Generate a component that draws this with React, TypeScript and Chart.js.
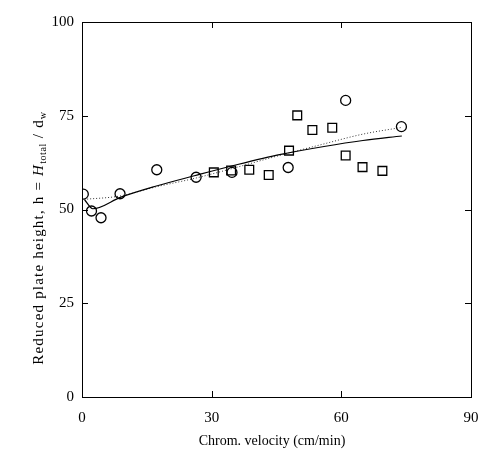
import React, { useEffect, useRef } from "react";
import { Chart, registerables } from "chart.js";
Chart.register(...registerables);

const xTickValues = [0, 30, 60, 90];
const yTickValues = [0, 25, 50, 75, 100];
const circleX = [0.3, 2.2, 4.4, 8.8, 17.3, 26.4, 34.7, 47.7, 61.0, 73.9];
const circleY = [54.1, 49.6, 47.8, 54.2, 60.6, 58.6, 59.9, 61.2, 79.1, 72.1];
const squareX = [30.5, 34.5, 38.7, 43.2, 47.9, 49.8, 53.3, 57.9, 61.0, 64.9, 69.5];
const squareY = [59.9, 60.4, 60.6, 59.2, 65.7, 75.1, 71.2, 71.8, 64.4, 61.3, 60.3];
const solidX = [0.6, 2.5, 9, 17, 26, 36, 46, 56, 65, 74];
const solidY = [52.6, 50.2, 53.3, 56.2, 59.0, 62.0, 64.7, 66.8, 68.4, 69.6];
const dottedX = [0.5, 8.8, 17, 26.4, 35, 45, 55, 65, 74];
const dottedY = [52.7, 53.6, 56.0, 58.4, 61.0, 64.2, 67.2, 70.1, 71.9];

const xTitle = "Chrom. velocity (cm/min)";
const FONT = "'Liberation Serif', 'Times New Roman', serif";

const pts = (xs: number[], ys: number[]) => xs.map((x, i) => ({ x, y: ys[i] }));

const framePlugin = {
  id: "frame",
  afterDraw(chart: any) {
    const { ctx, chartArea: a, scales } = chart;
    const xs = scales.x, ys = scales.y;
    ctx.save();
    ctx.strokeStyle = "#000";
    ctx.lineWidth = 1;
    ctx.strokeRect(a.left + 0.5, a.top + 0.5, a.right - a.left, a.bottom - a.top);
    const tl = 6;
    ctx.beginPath();
    [30, 60].forEach((v) => {
      const px = Math.round(xs.getPixelForValue(v)) + 0.5;
      ctx.moveTo(px, a.bottom); ctx.lineTo(px, a.bottom - tl);
      ctx.moveTo(px, a.top); ctx.lineTo(px, a.top + tl);
    });
    [25, 50, 75].forEach((v) => {
      const py = Math.round(ys.getPixelForValue(v)) + 0.5;
      ctx.moveTo(a.left, py); ctx.lineTo(a.left + tl, py);
      ctx.moveTo(a.right, py); ctx.lineTo(a.right - tl, py);
    });
    ctx.stroke();

    // x title
    ctx.fillStyle = "#000";
    ctx.font = `14px ${FONT}`;
    ctx.textAlign = "center";
    ctx.textBaseline = "middle";
    ctx.fillText(xTitle, 272, 441);

    // y title with subscripts
    const segs = [
      { t: "Reduced plate height, h = ", f: `15px ${FONT}`, dy: 0, ls: 1.2 },
      { t: "H", f: `italic 15px ${FONT}`, dy: 0, ls: 1.2 },
      { t: "total", f: `10px ${FONT}`, dy: 4, ls: 0.6 },
      { t: " / d", f: `15px ${FONT}`, dy: 0, ls: 1.2 },
      { t: "w", f: `10px ${FONT}`, dy: 4, ls: 0.6 },
    ];
    const widthOf = (s: any) => {
      ctx.font = s.f;
      return ctx.measureText(s.t).width + s.ls * s.t.length;
    };
    let total = 0;
    segs.forEach((s) => { total += widthOf(s); });
    ctx.translate(39, 238);
    ctx.rotate(-Math.PI / 2);
    ctx.textAlign = "left";
    ctx.textBaseline = "middle";
    let cx = -total / 2;
    segs.forEach((s) => {
      ctx.font = s.f;
      for (const ch of s.t) {
        ctx.fillText(ch, cx, s.dy);
        cx += ctx.measureText(ch).width + s.ls;
      }
    });
    ctx.restore();
  },
};

export default function App() {
  const ref = useRef<HTMLCanvasElement>(null);
  useEffect(() => {
    document.body.style.margin = "0";
    const chart = new Chart(ref.current!, {
      type: "scatter",
      data: {
        datasets: [
          {
            data: pts(solidX, solidY),
            showLine: true,
            borderColor: "#000",
            borderWidth: 1.2,
            pointRadius: 0,
            cubicInterpolationMode: "monotone",
          },
          {
            data: pts(dottedX, dottedY),
            showLine: true,
            borderColor: "#333",
            borderWidth: 1,
            borderDash: [1, 2],
            pointRadius: 0,
            cubicInterpolationMode: "monotone",
          },
          {
            data: pts(circleX, circleY),
            pointStyle: "circle",
            pointRadius: 5,
            borderColor: "#000",
            backgroundColor: "rgba(0,0,0,0)",
            borderWidth: 1.3,
          },
          {
            data: pts(squareX, squareY),
            pointStyle: "rect",
            pointRadius: 6.2,
            borderColor: "#000",
            backgroundColor: "rgba(0,0,0,0)",
            borderWidth: 1.3,
          },
        ] as any,
      },
      options: {
        animation: false,
        responsive: false,
        maintainAspectRatio: false,
        layout: { padding: { top: 22, right: 10, left: 0, bottom: 0 } },
        plugins: { legend: { display: false }, tooltip: { enabled: false } },
        scales: {
          x: {
            type: "linear",
            min: 0,
            max: 90,
            afterBuildTicks: (s: any) => { s.ticks = xTickValues.map((v) => ({ value: v })); },
            afterFit: (s: any) => { s.height = 59; s.paddingLeft = 0; s.paddingRight = 0; },
            grid: { display: false, drawTicks: false },
            border: { display: false },
            ticks: { color: "#000", font: { family: FONT, size: 15 }, padding: 12, maxRotation: 0 },
          },
          y: {
            type: "linear",
            min: 0,
            max: 100,
            afterBuildTicks: (s: any) => { s.ticks = yTickValues.map((v) => ({ value: v })); },
            afterFit: (s: any) => { s.width = 82; s.paddingTop = 0; s.paddingBottom = 0; },
            grid: { display: false, drawTicks: false },
            border: { display: false },
            ticks: { color: "#000", font: { family: FONT, size: 15 }, padding: 8 },
          },
        },
      } as any,
      plugins: [framePlugin],
    });
    return () => chart.destroy();
  }, []);
  return (
    <div style={{ position: "fixed", left: 0, top: 0, width: 481, height: 456, background: "#fff" }}>
      <canvas ref={ref} width={481} height={456} style={{ width: 481, height: 456 }} />
    </div>
  );
}
